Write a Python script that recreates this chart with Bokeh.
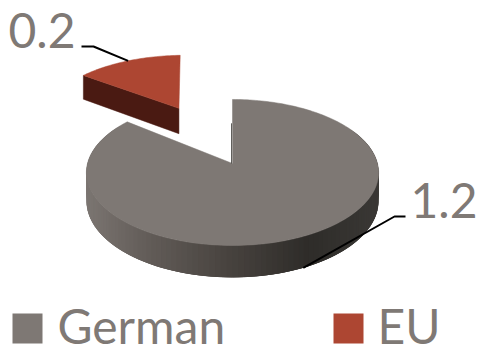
import math
from bokeh.core.properties import value
from bokeh.embed import file_html
from bokeh.models import Range1d
from bokeh.plotting import figure
from bokeh.resources import INLINE

categories = ["German", "EU"]
amounts = [1.2, 0.2]
top_colors = ["#7e7874", "#ad4632"]
wedge_wall_color = "#4a1a12"
text_color = "#7f7975"
font = value("Lato")
font_size = "48px"

# Pie projection: disc seen from above with perspective
CX, CY = 232.0, 163.0
RX, RY = 145.0, 71.9
PERSP = 0.123
DEPTH = 28.0
EXPLODE = 0.94
WEDGE_TILT = math.radians(-2.0)


def project(u, v, drop=0.0):
    w = 1 + PERSP * v
    return CX + RX * u / w, CY - RY * v / w + drop * DEPTH / w


def rim(theta, offset=(0.0, 0.0), drop=0.0):
    return project(math.sin(theta) + offset[0], math.cos(theta) + offset[1], drop)


def shade(px):
    # Wall shading runs from light on the left to dark on the right
    stops = [(85, (124, 118, 114)), (150, (98, 92, 88)), (230, (72, 67, 63)),
             (310, (46, 44, 41)), (380, (58, 56, 53))]
    for (x0, c0), (x1, c1) in zip(stops, stops[1:]):
        if px <= x1:
            t = max(0.0, (px - x0) / (x1 - x0))
            return "#%02x%02x%02x" % tuple(round(a + (b - a) * t) for a, b in zip(c0, c1))
    return "#3a3835"


total = sum(amounts)
split = 2 * math.pi * amounts[0] / total

p = figure(width=479, height=345, output_backend="svg", toolbar_location=None,
           x_range=Range1d(0, 479), y_range=Range1d(345, 0),
           min_border=0, outline_line_color=None, background_fill_color="white",
           border_fill_color="white")
p.axis.visible = False
p.grid.visible = False

# Side wall of the large slice: overlapping narrow quads so no seams show
n_wall = 120
for i in range(n_wall):
    a = math.radians(60) + i * math.radians(240) / n_wall
    b = math.radians(60) + (i + 3) * math.radians(240) / n_wall
    t0, t1 = rim(a), rim(b)
    b0, b1 = rim(a, drop=1), rim(b, drop=1)
    c = shade(t0[0])
    p.patch([t0[0], t1[0], b1[0], b0[0]], [t0[1], t1[1], b1[1], b0[1]],
            fill_color=c, line_color=None)

# Top face of the large slice
n = 240
arc = [rim(split * i / n) for i in range(n + 1)]
p.patch([CX] + [q[0] for q in arc], [CY] + [q[1] for q in arc],
        fill_color=top_colors[0], line_color=top_colors[0], line_width=0.5)

# Thin dark edge along the lower part of the vertical cut
cut_top = project(0.0, 0.6)
p.line([cut_top[0] - 1, CX - 1], [cut_top[1], CY], line_color="#3a3835", line_width=1, line_alpha=0.8)

# Exploded slice: cut wall first, then its top face
mid = (split + 2 * math.pi) / 2
off = (math.sin(mid) * EXPLODE, math.cos(mid) * EXPLODE)
apex_top = project(off[0], off[1])
apex_low = project(off[0], off[1], drop=1)
edge_top = rim(split + WEDGE_TILT, off)
edge_low = rim(split + WEDGE_TILT, off, drop=1)
p.patch([apex_top[0], edge_top[0], edge_low[0], apex_low[0]],
        [apex_top[1], edge_top[1], edge_low[1], apex_low[1]],
        fill_color=wedge_wall_color, line_color=wedge_wall_color, line_width=0.5)
m = 40
arc2 = [rim(split + WEDGE_TILT + (2 * math.pi - split) * i / m, off) for i in range(m + 1)]
p.patch([apex_top[0]] + [q[0] for q in arc2], [apex_top[1]] + [q[1] for q in arc2],
        fill_color=top_colors[1], line_color=top_colors[1], line_width=0.5)

# Leader lines end on each slice's mid-angle
big_end = rim(split / 2, drop=1)
small_end = rim(mid + WEDGE_TILT, off)
p.line([81, 93, small_end[0]], [46, 46, small_end[1]], line_color="black", line_width=2)
p.line([405, 394, big_end[0]], [216, 216, big_end[1]], line_color="black", line_width=2)

# Value labels (anchored on their vertical middle)
p.text([8], [30], text=[f"{amounts[1]:.1f}"], text_font=font, text_font_size=font_size,
       text_color=text_color, text_baseline="middle")
p.text([410], [200], text=[f"{amounts[0]:.1f}"], text_font=font, text_font_size=font_size,
       text_color=text_color, text_baseline="middle")

# Legend
swatch_x = [12, 333]
label_x = [57, 377]
for cat, color, sx, lx in zip(categories, top_colors, swatch_x, label_x):
    p.patch([sx, sx + 30, sx + 30, sx], [313, 313, 343, 343], fill_color=color, line_color=None)
    p.text([lx], [325], text=[cat], text_font=font, text_font_size=font_size,
           text_color=text_color, text_baseline="middle")

open("out.html", "w").write(file_html(p, INLINE))
